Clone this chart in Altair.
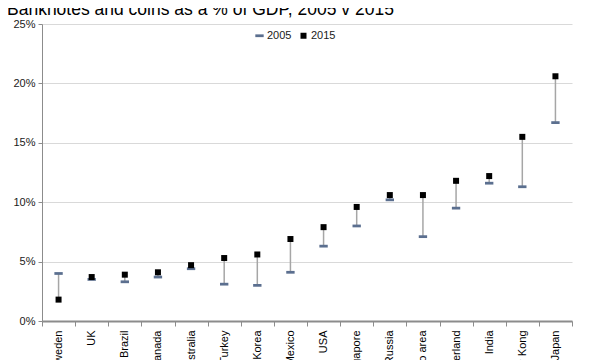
import altair as alt
import pandas as pd

countries = ["Sweden", "UK", "Brazil", "Canada", "Australia", "Turkey", "Korea",
             "Mexico", "USA", "Singapore", "Russia", "Euro area", "Switzerland",
             "India", "Hong Kong", "Japan"]
v2005 = [4.0, 3.5, 3.3, 3.7, 4.4, 3.1, 3.0, 4.1, 6.3, 8.0, 10.2, 7.1, 9.5, 11.6, 11.3, 16.7]
v2015 = [1.8, 3.7, 3.9, 4.1, 4.7, 5.3, 5.6, 6.9, 7.9, 9.6, 10.6, 10.6, 11.8, 12.2, 15.5, 20.6]
years = ["2005", "2015"]
y_ticks = [0, 5, 10, 15, 20, 25]

wide = pd.DataFrame({"country": countries, "v2005": v2005, "v2015": v2015})
long = pd.DataFrame(
    [{"country": c, "year": years[0], "value": a} for c, a in zip(countries, v2005)]
    + [{"country": c, "year": years[1], "value": b} for c, b in zip(countries, v2015)]
)

FONT = "Liberation Sans"
x_enc = alt.X(
    "country:N", sort=countries,
    scale=alt.Scale(paddingInner=0, paddingOuter=0),
    axis=alt.Axis(title=None, labelAngle=270, labelFontSize=11, labelColor="#000000",
                  labelFont=FONT, labelPadding=4, domainColor="#8c8c8c", domainWidth=2,
                  tickColor="#8c8c8c", tickSize=5, tickBand="extent", grid=False),
)
y_scale = alt.Scale(domain=[0, 25], nice=False)
y_axis = alt.Axis(title=None, values=y_ticks, labelExpr="datum.value + '%'",
                  labelFontSize=11, labelFont=FONT, labelColor="#1a1a1a", labelPadding=3,
                  gridColor="#d9d9d9", tickColor="#8c8c8c", tickSize=4,
                  domainColor="#8c8c8c")

rules = alt.Chart(wide).mark_rule(color="#a6a6a6", strokeWidth=1.5).encode(
    x=x_enc,
    y=alt.Y("v2005:Q", scale=y_scale, axis=y_axis),
    y2="v2015:Q",
)

dash = "M-1,-0.33H1V0.33H-1Z"
points = alt.Chart(long).mark_point(filled=True, opacity=1).encode(
    x=x_enc,
    y=alt.Y("value:Q", scale=y_scale, axis=y_axis),
    color=alt.Color("year:N", scale=alt.Scale(domain=years, range=["#5b6f8f", "#000000"]),
                    legend=alt.Legend(title=None, orient="none", legendX=212, legendY=6,
                                      direction="horizontal", labelFont=FONT,
                                      labelFontSize=11, labelColor="#1a1a1a",
                                      columnPadding=6, labelOffset=2)),
    shape=alt.Shape("year:N", scale=alt.Scale(domain=years, range=[dash, "square"])),
    size=alt.Size("year:N", scale=alt.Scale(domain=years, range=[70, 36])),
    order=alt.Order("year:N"),
)

chart = alt.layer(rules, points).properties(
    width=530, height=297,
    autosize=alt.AutoSizeParams(type="none"),
    padding={"left": 34, "top": 16, "right": 9, "bottom": 39},
    title=alt.TitleParams("Banknotes and coins as a % of GDP, 2005 v 2015",
                          anchor="start", frame="group", fontSize=17.5, font=FONT,
                          fontWeight="normal", color="#000000", dx=-35, offset=0),
).configure_view(stroke=None)

chart.save("out.html", embed_options={"renderer": "svg", "actions": False})
